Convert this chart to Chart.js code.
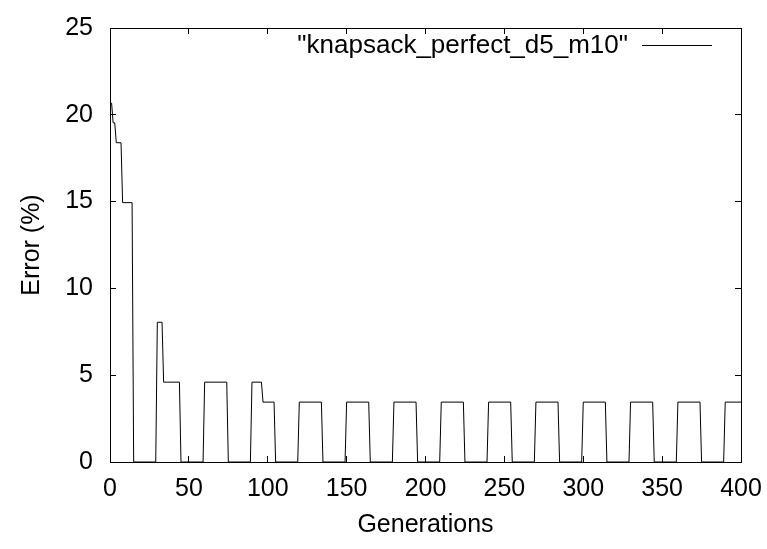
<!DOCTYPE html>
<html>
<head>
<meta charset="utf-8">
<script src="https://cdn.jsdelivr.net/npm/chart.js@4.4.1/dist/chart.umd.min.js"></script>
<style>
html,body{margin:0;padding:0;background:#fff;}
#wrap{width:767px;height:549px;}
</style>
</head>
<body>
<div id="wrap"><canvas id="c" width="767" height="549"></canvas></div>
<script>
// ---- data ----
const seriesLabel = '"knapsack_perfect_d5_m10"';
const generations = [
  1, 2, 3, 4, 7, 8, 14, 15,
  29, 30, 33, 34, 44, 45,
  59, 60, 74, 75,
  89, 90, 96, 97, 104, 105,
  119, 120, 134, 135,
  149, 150, 164, 165,
  179, 180, 194, 195,
  209, 210, 224, 225,
  239, 240, 254, 255,
  269, 270, 284, 285,
  299, 300, 314, 315,
  329, 330, 344, 345,
  359, 360, 374, 375,
  389, 390, 400
];
const errorPct = [
  20.69, 19.54, 19.54, 18.39, 18.39, 14.94, 14.94, 0,
  0, 8.05, 8.05, 4.60, 4.60, 0,
  0, 4.60, 4.60, 0,
  0, 4.60, 4.60, 3.45, 3.45, 0,
  0, 3.45, 3.45, 0,
  0, 3.45, 3.45, 0,
  0, 3.45, 3.45, 0,
  0, 3.45, 3.45, 0,
  0, 3.45, 3.45, 0,
  0, 3.45, 3.45, 0,
  0, 3.45, 3.45, 0,
  0, 3.45, 3.45, 0,
  0, 3.45, 3.45, 0,
  0, 3.45, 3.45
];
const xTickValues = [0, 50, 100, 150, 200, 250, 300, 350, 400];
const yTickValues = [0, 5, 10, 15, 20, 25];
const xTitle = 'Generations';
const yTitle = 'Error (%)';

// ---- chart ----
const FONT = '"Liberation Sans", Arial, Helvetica, sans-serif';
Chart.defaults.font.family = FONT;
Chart.defaults.font.size = 25;
Chart.defaults.color = '#000';

const points = generations.map((g, i) => ({ x: g, y: errorPct[i] }));

const gridOpts = { drawOnChartArea: false, drawTicks: true, tickLength: -6, color: '#000', lineWidth: 1 };
const borderOpts = { display: true, color: '#000', width: 1 };

function noPad(s) { s.paddingLeft = 0; s.paddingRight = 0; s.paddingTop = 0; s.paddingBottom = 0; }

const keyPlugin = {
  id: 'gnuplotKey',
  afterDatasetsDraw(chart) {
    const ds = chart.data.datasets[0];
    const ca = chart.chartArea;
    const ctx = chart.ctx;
    ctx.save();
    ctx.font = '26px ' + FONT;
    ctx.fillStyle = '#000';
    ctx.textAlign = 'right';
    ctx.textBaseline = 'alphabetic';
    const lineRight = ca.right - 29;
    const lineLeft = lineRight - 70;
    ctx.fillText(ds.label, lineLeft - 14, ca.top + 25);
    ctx.strokeStyle = ds.borderColor;
    ctx.lineWidth = ds.borderWidth;
    ctx.beginPath();
    ctx.moveTo(lineLeft, ca.top + 17.5);
    ctx.lineTo(lineRight, ca.top + 17.5);
    ctx.stroke();
    ctx.restore();
  }
};

new Chart(document.getElementById('c'), {
  type: 'line',
  data: {
    datasets: [{
      label: seriesLabel,
      data: points,
      borderColor: '#000',
      borderWidth: 1,
      pointRadius: 0,
      fill: false,
      tension: 0,
      xAxisID: 'x',
      yAxisID: 'y'
    }]
  },
  options: {
    responsive: false,
    animation: false,
    devicePixelRatio: 1,
    layout: { padding: 0 },
    plugins: { legend: { display: false }, tooltip: { enabled: false } },
    scales: {
      x: {
        type: 'linear', position: 'bottom', min: 0, max: 400,
        afterBuildTicks: s => { s.ticks = xTickValues.map(v => ({ value: v })); },
        ticks: { padding: 18, maxRotation: 0, autoSkip: false, color: '#000' },
        grid: gridOpts, border: borderOpts,
        title: { display: true, text: xTitle, color: '#000', padding: { top: 0, bottom: 9 } },
        afterFit: s => { s.height = 87; noPad(s); }
      },
      x2: {
        type: 'linear', position: 'top', min: 0, max: 400,
        afterBuildTicks: s => { s.ticks = xTickValues.map(v => ({ value: v })); },
        ticks: { display: false },
        grid: gridOpts, border: borderOpts,
        afterFit: s => { s.height = 28; noPad(s); }
      },
      y: {
        type: 'linear', position: 'left', min: 0, max: 25,
        afterBuildTicks: s => { s.ticks = yTickValues.map(v => ({ value: v })); },
        ticks: { padding: 23, color: '#000' },
        grid: gridOpts, border: borderOpts,
        title: { display: true, text: yTitle, color: '#000', padding: { top: 17, bottom: 0 } },
        afterFit: s => { s.width = 110; noPad(s); }
      },
      y2: {
        type: 'linear', position: 'right', min: 0, max: 25,
        afterBuildTicks: s => { s.ticks = yTickValues.map(v => ({ value: v })); },
        ticks: { display: false },
        grid: gridOpts, border: borderOpts,
        afterFit: s => { s.width = 26; noPad(s); }
      }
    }
  },
  plugins: [keyPlugin]
});
</script>
</body>
</html>
